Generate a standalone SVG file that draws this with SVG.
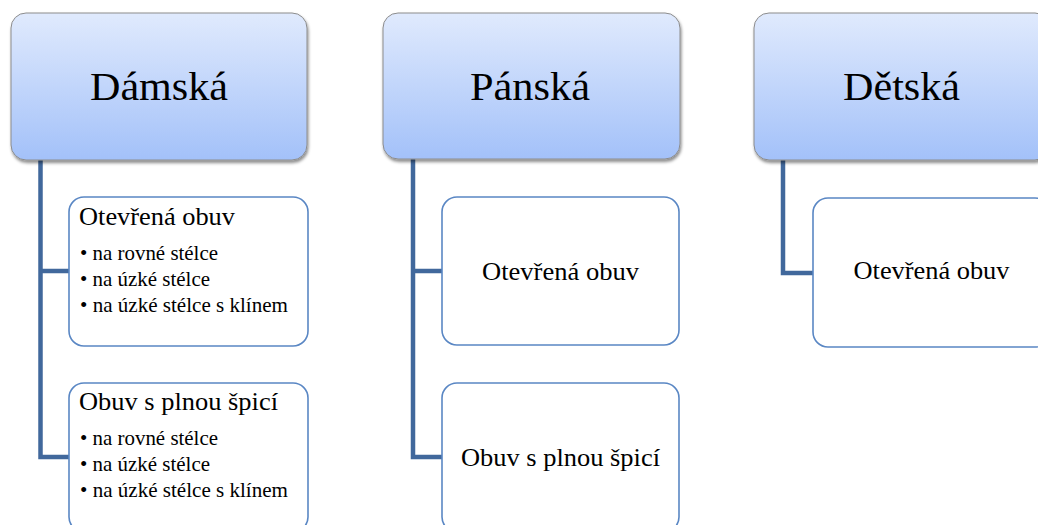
<svg xmlns="http://www.w3.org/2000/svg" width="1038" height="525" viewBox="0 0 1038 525">
<defs>
<linearGradient id="topGrad" x1="0" y1="0" x2="0" y2="1">
<stop offset="0" stop-color="#e0eafd"/>
<stop offset="1" stop-color="#a3c1f9"/>
</linearGradient>
<filter id="shadow" x="-5%" y="-5%" width="112%" height="115%">
<feDropShadow dx="1" dy="2.5" stdDeviation="1.6" flood-color="#000" flood-opacity="0.45"/>
</filter>
</defs>
<style>
.top{fill:url(#topGrad);stroke:#8c8c8c;stroke-width:1;filter:url(#shadow)}
.child{fill:#fff;stroke:#5a87c4;stroke-width:1.6}
.conn{fill:none;stroke:#41689c;stroke-width:4.5;stroke-linejoin:miter}
text{font-family:"Liberation Serif","Times New Roman",serif;fill:#000}
.h{font-size:41px;text-anchor:middle}
.t{font-size:26px}
.tc{font-size:26px;text-anchor:middle}
.b{font-size:21px}
</style>
<g id="connectors">
<path class="conn" d="M40.5 160 V457 H69 M40.5 271 H69"/>
<path class="conn" d="M413 159 V457 H442 M413 271 H442"/>
<path class="conn" d="M783 160 V273 H813"/>
</g>
<g id="damska">
<rect class="top" x="11" y="13" width="296" height="147" rx="15"/>
<text class="h" x="159" y="100" textLength="138" lengthAdjust="spacingAndGlyphs">Dámská</text>
</g>
<g id="panska">
<rect class="top" x="383" y="13" width="297" height="146" rx="15"/>
<text class="h" x="530" y="100" textLength="120" lengthAdjust="spacingAndGlyphs">Pánská</text>
</g>
<g id="detska">
<rect class="top" x="754" y="13" width="296" height="147" rx="15"/>
<text class="h" x="901.5" y="100" textLength="117" lengthAdjust="spacingAndGlyphs">Dětská</text>
</g>
<g id="damska-otevrena">
<rect class="child" x="69" y="197" width="239" height="149" rx="15"/>
<text class="t" x="79" y="225" textLength="156" lengthAdjust="spacingAndGlyphs">Otevřená obuv</text>
<text class="b" x="80" y="259.5" textLength="138" lengthAdjust="spacingAndGlyphs">• na rovné stélce</text>
<text class="b" x="80" y="285.5" textLength="130" lengthAdjust="spacingAndGlyphs">• na úzké stélce</text>
<text class="b" x="80" y="311.5" textLength="208" lengthAdjust="spacingAndGlyphs">• na úzké stélce s klínem</text>
</g>
<g id="damska-spice">
<rect class="child" x="69" y="383" width="239" height="149" rx="15"/>
<text class="t" x="79" y="410" textLength="199" lengthAdjust="spacingAndGlyphs">Obuv s plnou špicí</text>
<text class="b" x="80" y="445" textLength="138" lengthAdjust="spacingAndGlyphs">• na rovné stélce</text>
<text class="b" x="80" y="471" textLength="130" lengthAdjust="spacingAndGlyphs">• na úzké stélce</text>
<text class="b" x="80" y="497" textLength="208" lengthAdjust="spacingAndGlyphs">• na úzké stélce s klínem</text>
</g>
<g id="panska-otevrena">
<rect class="child" x="442" y="197" width="237" height="148" rx="15"/>
<text class="tc" x="560.5" y="280" textLength="157" lengthAdjust="spacingAndGlyphs">Otevřená obuv</text>
</g>
<g id="panska-spice">
<rect class="child" x="442" y="383" width="237" height="149" rx="15"/>
<text class="tc" x="560.5" y="466" textLength="199" lengthAdjust="spacingAndGlyphs">Obuv s plnou špicí</text>
</g>
<g id="detska-otevrena">
<rect class="child" x="813" y="198" width="237" height="149" rx="15"/>
<text class="tc" x="931.5" y="279" textLength="156" lengthAdjust="spacingAndGlyphs">Otevřená obuv</text>
</g>
</svg>
